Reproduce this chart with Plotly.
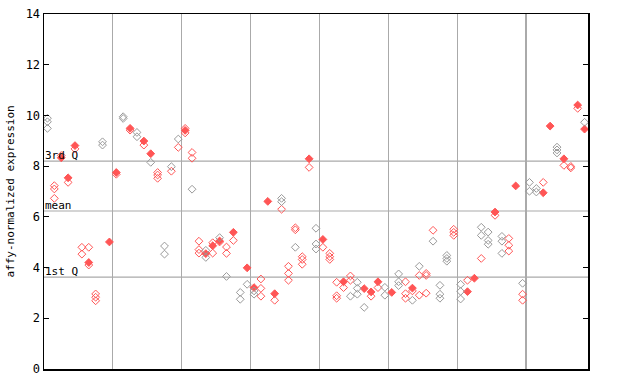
import plotly.graph_objects as go

# expression values per sample (index 0..78), colours per point (r=red, g=gray), filled point index (-1 none)
values = [
    [9.89, 9.75, 9.49], [7.23, 7.10, 6.73], [8.42, 8.33], [7.54, 7.36], [8.81, 8.68],
    [4.80, 4.53], [4.80, 4.20, 4.10], [2.96, 2.83, 2.69], [8.96, 8.83], [5.01],
    [7.75, 7.68], [9.95, 9.88], [9.49, 9.42], [9.33, 9.16], [8.99, 8.83],
    [8.49, 8.15], [7.75, 7.65, 7.52], [4.85, 4.53], [7.98, 7.80], [9.07, 8.74],
    [9.49, 9.41, 9.31], [8.54, 8.31, 7.09], [5.04, 4.71, 4.57], [4.68, 4.55, 4.40], [4.98, 4.86, 4.57],
    [5.18, 5.05, 5.01], [4.81, 4.56, 3.65], [5.39, 5.07], [3.02, 2.75], [3.99, 3.34],
    [3.21, 3.08, 2.95], [3.55, 3.18, 2.87], [6.61], [2.97, 2.71], [6.73, 6.60, 6.30],
    [4.05, 3.77, 3.50], [5.57, 5.49, 4.80], [4.43, 4.32, 4.13], [8.29, 7.95], [5.55, 4.93, 4.73],
    [5.11, 4.80], [4.56, 4.43, 4.32], [3.42, 2.89, 2.79], [3.44, 3.21], [3.67, 3.50, 2.87],
    [3.42, 3.18, 2.95], [3.17, 2.43], [3.04, 2.87], [3.44, 3.21], [3.22, 2.91],
    [3.02], [3.75, 3.44, 3.29], [3.44, 2.97, 2.79], [3.19, 3.08, 2.71], [4.05, 3.69, 2.91],
    [3.77, 3.69, 2.99], [5.47, 5.04], [3.30, 2.95, 2.79], [4.48, 4.36, 4.25], [5.51, 5.39, 5.27],
    [3.34, 3.06, 2.76], [3.50, 3.05], [3.58], [5.59, 5.27, 4.36], [5.40, 5.07, 4.92],
    [6.19, 6.06], [5.23, 5.04, 4.56], [5.15, 4.88, 4.65], [7.22], [3.38, 2.95, 2.71],
    [7.36, 7.01], [7.12, 6.98], [7.36, 6.95], [9.58], [8.75, 8.64, 8.52],
    [8.29, 8.03], [7.99, 7.93], [10.41, 10.28], [9.73, 9.46],
]
colours = [
    "ggg", "rrr", "rr", "rr", "rr", "rr", "rrr", "rrr", "gg", "r",
    "rr", "gg", "rr", "gg", "rr", "rg", "rrr", "gg", "gr", "gr",
    "rrr", "rrg", "rrr", "grg", "rrr", "grr", "rrg", "rr", "gg", "rg",
    "rgg", "rrr", "r", "rr", "ggr", "rrr", "rrg", "rrr", "rr", "ggg",
    "rr", "rrr", "rrr", "rr", "rrg", "ggg", "rg", "rr", "rr", "gg",
    "r", "ggg", "rrr", "rrg", "grr", "rrr", "rg", "ggg", "ggg", "rrr",
    "ggg", "rr", "r", "ggr", "ggg", "rr", "ggg", "rrr", "r", "grr",
    "gg", "gg", "rr", "r", "ggg", "rr", "rr", "rr", "gr",
]
filled = [
    -1, -1, 1, 0, 0, -1, 1, -1, -1, 0,
    0, -1, 0, -1, 0, 0, -1, -1, -1, -1,
    1, -1, -1, 1, 1, 1, -1, 0, -1, 0,
    0, -1, 0, 0, -1, -1, -1, -1, 0, -1,
    0, -1, -1, 0, -1, -1, 0, 0, 0, -1,
    0, -1, -1, 0, -1, -1, -1, -1, -1, -1,
    -1, 1, 0, -1, -1, 0, -1, -1, 0, -1,
    -1, -1, 1, 0, -1, 0, -1, 0, 1,
]
quartile_values = [3.62, 6.23, 8.20]
quartile_labels = ["1st Q", "mean", "3rd Q"]
section_bounds = [10, 20, 30, 40, 50, 60, 70]
n_samples = 79

RED = "#ff5555"
GRAY = "#999999"

groups = {("r", False): ([], []), ("r", True): ([], []), ("g", False): ([], []), ("g", True): ([], [])}
for i, (vals, cs, f) in enumerate(zip(values, colours, filled)):
    for j, (v, c) in enumerate(zip(vals, cs)):
        key = (c, j == f)
        groups[key][0].append(i + 0.5)
        groups[key][1].append(v)

fig = go.Figure()
for (c, is_filled), (xs, ys) in groups.items():
    if not xs:
        continue
    col = RED if c == "r" else GRAY
    fig.add_trace(go.Scatter(
        x=xs, y=ys, mode="markers",
        marker=dict(symbol="diamond" if is_filled else "diamond-open",
                    size=6, color=col,
                    line=dict(width=1, color=col)),
        showlegend=False, hoverinfo="skip"))

for q, lab in zip(quartile_values, quartile_labels):
    fig.add_shape(type="line", xref="x", yref="y", x0=0, x1=n_samples, y0=q, y1=q,
                  line=dict(color="#aaaaaa", width=1.2), layer="below")
    fig.add_annotation(x=0, y=q, xref="x", yref="y", text=lab, showarrow=False,
                       xanchor="left", yanchor="bottom", xshift=-1, yshift=-3,
                       font=dict(family="DejaVu Sans Mono", size=11, color="black"))

fig.add_annotation(x=-0.0625, y=0.5, xref="paper", yref="paper",
                   text="affy-normalized expression", textangle=-90, showarrow=False,
                   xanchor="center", yanchor="middle",
                   font=dict(family="DejaVu Sans Mono", size=11, color="black"))

fig.update_layout(
    width=640, height=384,
    margin=dict(l=44, r=52, t=14, b=15),
    paper_bgcolor="white", plot_bgcolor="white",
    font=dict(family="DejaVu Sans Mono", size=12, color="black"),
    xaxis=dict(range=[0, n_samples], tickvals=section_bounds, showticklabels=False,
               ticks="", showgrid=True, gridcolor="#aaaaaa", gridwidth=1.2, automargin=False,
               showline=True, linecolor="black", linewidth=1.5, mirror=True, zeroline=False),
    yaxis=dict(range=[0, 14], dtick=2, ticks="inside", ticklen=5, tickcolor="black",
               showgrid=False, showline=True, linecolor="black", linewidth=1.5, automargin=False,
               mirror="ticks", zeroline=False),
)

fig.write_html("out.html", config={"displayModeBar": False, "staticPlot": True},
               post_script="document.body.style.margin='0px';document.body.style.overflow='hidden';")
